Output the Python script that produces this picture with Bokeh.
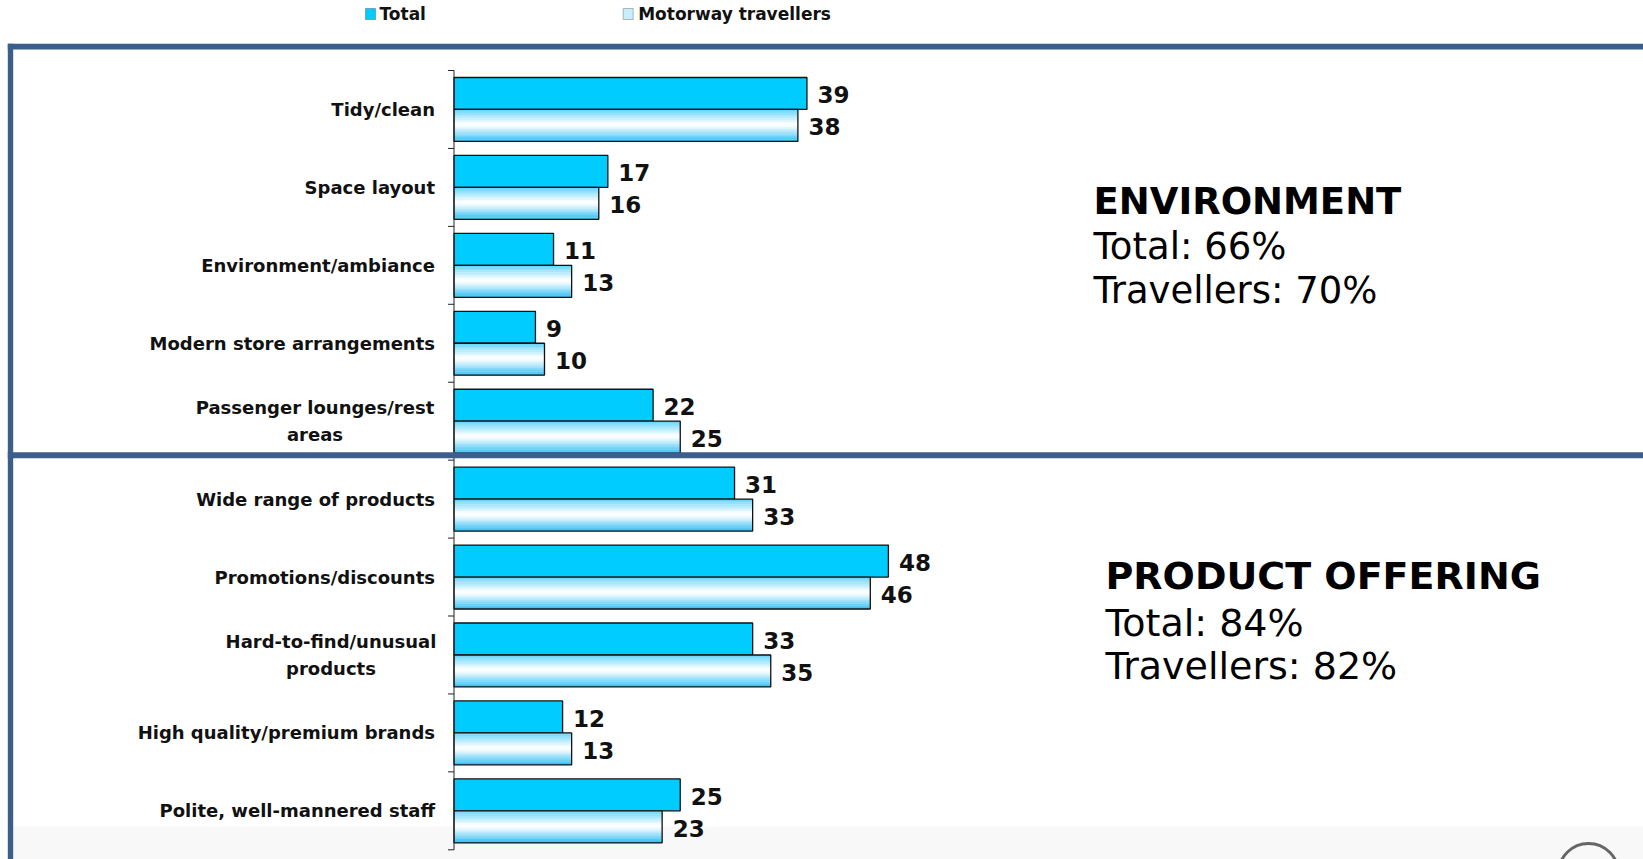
from math import pi
from bokeh.plotting import figure
from bokeh.models import Range1d, ColumnDataSource, BoxAnnotation
from bokeh.core.properties import value
from bokeh.embed import file_html
from bokeh.resources import INLINE

# ---------------- data ----------------
categories = [
    "Tidy/clean",
    "Space layout",
    "Environment/ambiance",
    "Modern store arrangements",
    "Passenger lounges/rest\nareas",
    "Wide range of products",
    "Promotions/discounts",
    "Hard-to-find/unusual\nproducts",
    "High quality/premium brands",
    "Polite, well-mannered staff",
]
total = [39, 17, 11, 9, 22, 31, 48, 33, 12, 25]
motorway = [38, 16, 13, 10, 25, 33, 46, 35, 13, 23]
series_names = ["Total", "Motorway travellers"]
section_titles = ["ENVIRONMENT", "PRODUCT OFFERING"]
section_total = [66, 84]
section_travellers = [70, 82]

# ---------------- geometry / style ----------------
W, H = 1643, 859
X0, PXU = 453.5, 9.05      # canvas x of value 0, pixels per unit
YB, PXC = 849.3, 77.93     # canvas y of bottom category boundary, pixels per category


def dx(cx):
    return (cx - X0) / PXU


def dy(cy):
    return (YB - cy) / PXC


TOTAL_COLOR = "#00CCFF"
FRAME_COLOR = "#3B5E8C"
LABEL_FONT = "DejaVu Sans"
VALUE_FONT = "DejaVu Sans"

p = figure(width=W, height=H, x_range=Range1d(dx(0), dx(W)), y_range=Range1d(dy(H), dy(0)),
           output_backend="svg", toolbar_location=None, min_border=0,
           x_axis_location=None, y_axis_location=None)
p.grid.visible = False
p.outline_line_color = None
p.background_fill_color = "white"
p.border_fill_color = "white"

# faint band at the bottom of the slide
p.add_layout(BoxAnnotation(left=dx(12.7), right=dx(W + 5), top=dy(826), bottom=dy(H + 5),
                           fill_color="#f8f8f8", fill_alpha=1, line_color=None, level="underlay"))

n = len(categories)
centers = [n - i - 0.5 for i in range(n)]
bar_h = 0.41

# Total bars
src_t = ColumnDataSource(dict(y=[c + bar_h / 2 for c in centers], right=total,
                              lab=[str(v) for v in total]))
p.hbar(y="y", left=0, right="right", height=bar_h, source=src_t,
       fill_color=TOTAL_COLOR, line_color="#111111", line_width=1.3)

# Motorway bars: vertical gradient built from thin strips
stops = [(0.0, (0x5F, 0xD3, 0xFB)), (0.45, (0xFF, 0xFF, 0xFF)),
         (0.55, (0xF2, 0xFB, 0xFF)), (1.0, (0x33, 0xBF, 0xF2))]


def grad(t):
    for (t0, c0), (t1, c1) in zip(stops[:-1], stops[1:]):
        if t0 <= t <= t1:
            f = (t - t0) / (t1 - t0) if t1 > t0 else 0
            return "#%02x%02x%02x" % tuple(int(round(a + (b - a) * f)) for a, b in zip(c0, c1))
    return "#%02x%02x%02x" % stops[-1][1]


N = 18
sy, sr, sc = [], [], []
for c, v in zip(centers, motorway):
    for k in range(N):
        sy.append(c - bar_h * (k + 0.5) / N)
        sr.append(v)
        sc.append(grad((k + 0.5) / N))
p.hbar(y=sy, left=0, right=sr, height=bar_h / N * 1.2, fill_color=sc, line_color=None)
src_m = ColumnDataSource(dict(y=[c - bar_h / 2 for c in centers], right=motorway,
                              lab=[str(v) for v in motorway]))
p.hbar(y="y", left=0, right="right", height=bar_h, source=src_m,
       fill_color=None, line_color="#111111", line_width=1.3)

# value labels
for src in (src_t, src_m):
    p.text(x="right", y="y", text="lab", source=src, x_offset=10.5, y_offset=1.5,
           text_font=value(VALUE_FONT), text_font_style="bold", text_font_size="23px",
           text_baseline="middle", text_align="left", text_color="#111111")

# category axis line and ticks at category boundaries
p.segment(x0=[0], y0=[0], x1=[0], y1=[n], line_color="#222222", line_width=1)
p.segment(x0=[-6 / PXU] * (n + 1), y0=list(range(n + 1)), x1=[0] * (n + 1),
          y1=list(range(n + 1)), line_color="#222222", line_width=1)

# category labels
single = [i for i, c in enumerate(categories) if "\n" not in c]
double = [i for i, c in enumerate(categories) if "\n" in c]
p.text(x=[0] * len(single), y=[centers[i] for i in single], text=[categories[i] for i in single],
       x_offset=-19, text_align="right", text_baseline="middle",
       text_font=value(LABEL_FONT), text_font_style="bold", text_font_size="18px",
       text_color="#111111")
two_line_offsets = {4: -139, 7: -123}
for i in double:
    p.text(x=[0], y=[centers[i]], text=[categories[i]], x_offset=two_line_offsets[i],
           text_align="center", text_baseline="middle", text_line_height=1.3,
           text_font=value(LABEL_FONT), text_font_style="bold", text_font_size="18px",
           text_color="#111111")

# slide frame lines
for (l, r, t, b) in [(7.3, W + 5, 43.3, 49.0), (7.3, 12.7, 43.3, H + 5), (7.3, W + 5, 451.7, 457.7)]:
    p.add_layout(BoxAnnotation(left=dx(l), right=dx(r), top=dy(t), bottom=dy(b),
                               fill_color=FRAME_COLOR, fill_alpha=1, line_color=None))

# legend
p.add_layout(BoxAnnotation(left=dx(365), right=dx(375), top=dy(8), bottom=dy(19),
                           fill_color=TOTAL_COLOR, fill_alpha=1, line_color="#222222", line_width=1))
p.add_layout(BoxAnnotation(left=dx(622.7), right=dx(632.7), top=dy(8), bottom=dy(19),
                           fill_color="#c9eefc", fill_alpha=1, line_color="#222222", line_width=1))
p.text(x=[dx(379), dx(637.7)], y=[dy(13.5), dy(13.5)], text=series_names,
       text_font=value(LABEL_FONT), text_font_style="bold", text_font_size="17px",
       text_baseline="middle", text_align="left", text_color="#111111")

# section summaries (cap centres of each line)
blocks = [
    (1093, [200.1, 245.3, 288.7], "37px", 0),
    (1105, [574.2, 621.0, 664.0], "38px", 1),
]
for cx, mids, fs, j in blocks:
    texts = [section_titles[j], f"Total: {section_total[j]}%", f"Travellers: {section_travellers[j]}%"]
    for k, (txt, my) in enumerate(zip(texts, mids)):
        p.text(x=[dx(cx)], y=[dy(my)], text=[txt], y_offset=1,
               text_font=value(VALUE_FONT), text_font_style="bold" if k == 0 else "normal",
               text_font_size=fs, text_baseline="middle", text_align="left", text_color="#000000")

# partial logo arc at the bottom right
p.arc(x=[dx(1588)], y=[dy(873)], radius=30, radius_units="screen",
      start_angle=0, end_angle=pi, line_color="#666666", line_width=3)

open("out.html", "w").write(file_html(p, INLINE))
